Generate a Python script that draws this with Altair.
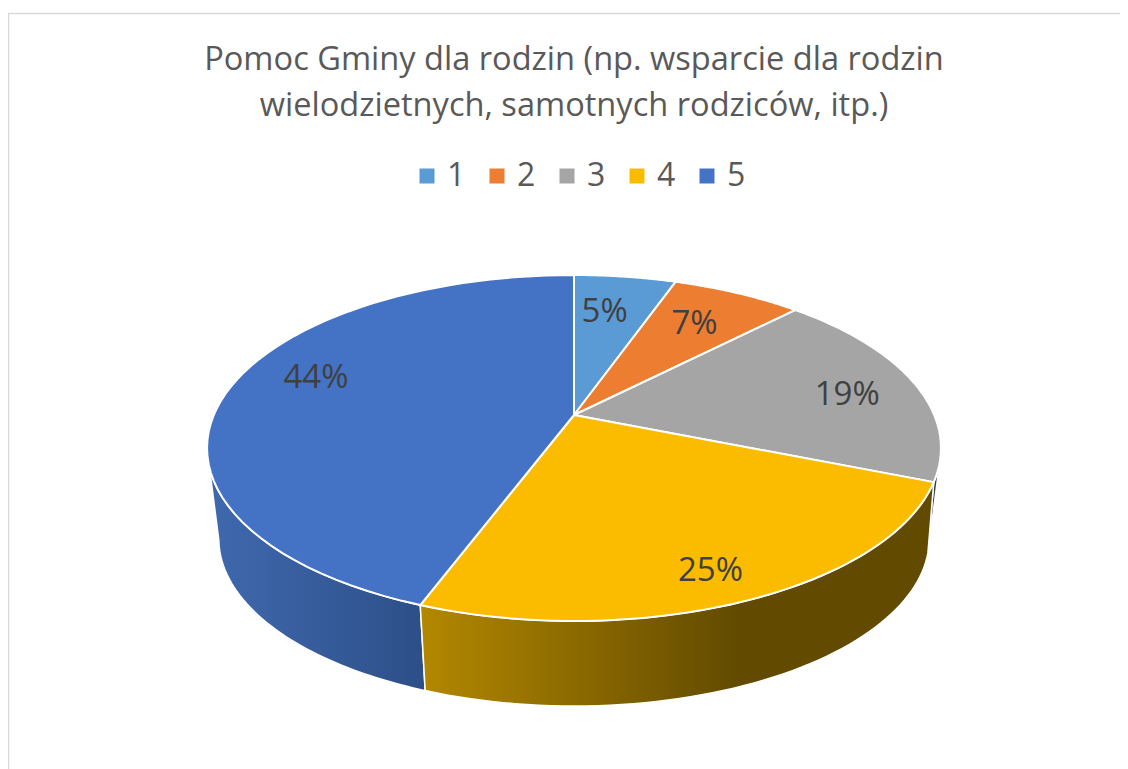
import math
import altair as alt
import pandas as pd

# --- chart content -------------------------------------------------------
title_lines = ["Pomoc Gminy dla rodzin  (np. wsparcie dla rodzin",
               "wielodzietnych, samotnych rodziców, itp.)"]
categories = ["1", "2", "3", "4", "5"]
shares = [5.4, 6.9, 18.8, 24.6, 44.3]
labels = ["5%", "7%", "19%", "25%", "44%"]
colors = ["#5B9BD5", "#ED7D31", "#A5A5A5", "#FBBC00", "#4472C4"]
label_radius = [0.72, 0.73, 0.79, 0.85, 0.79]
label_turn = [-2, -1, 2, 1.5, 8]

# --- perspective of the tilted disc --------------------------------------
CX, TOP_Y, BOT_Y = 574, 415, 506.6
P, RX, RY = 0.1908, 360.2, 166.7
SHRINK = 0.968


def top_pt(deg, rho=1.0):
    t = math.radians(deg)
    u, v = rho * math.sin(t), rho * math.cos(t)
    w = 1 + P * v
    return CX + RX * u / w, TOP_Y - RY * v / w


def low_pt(deg):
    t = math.radians(deg)
    u, v = math.sin(t), math.cos(t)
    w = 1 + P * v
    return CX + SHRINK * RX * u / w, BOT_Y - SHRINK * RY * v / w


def sweep(a, b, n=60):
    return [a + (b - a) * i / n for i in range(n + 1)]


cum = [0.0]
for s in shares:
    cum.append(cum[-1] + s)
angles = [c * 3.6 for c in cum]

rows = []
for k, cat in enumerate(categories):
    pts = [(CX, TOP_Y)] + [top_pt(d) for d in sweep(angles[k], angles[k + 1])]
    rows += [{"slice": cat, "i": i, "x": x, "y": y} for i, (x, y) in enumerate(pts)]
slices = pd.DataFrame(rows)


def wall(t_from, t_to, b_from, b_to):
    pts = [top_pt(d) for d in sweep(t_from, t_to)] + [low_pt(d) for d in sweep(b_from, b_to)]
    return pd.DataFrame([{"i": i, "x": x, "y": y} for i, (x, y) in enumerate(pts)])


xs = alt.Scale(domain=[8, 1120], range=[0, 1112])
ys = alt.Scale(domain=[8, 769], range=[0, 761])
X = alt.X("x:Q", scale=xs, axis=None)
Y = alt.Y("y:Q", scale=ys, axis=None)


def gradient(stops):
    return {"gradient": "linear", "x1": 0, "x2": 1, "y1": 0, "y2": 0,
            "stops": [{"offset": o, "color": c} for o, c in stops]}


def wall_layer(data, fill):
    return alt.Chart(data).mark_line(
        interpolate="linear-closed", fill=fill, stroke="white", strokeWidth=1.5
    ).encode(x=X, y=Y, order="i:Q")


wall_blue = wall_layer(wall(angles[4], 252.5, 258.5, angles[4]),
                       gradient([(0, "#3F69AE"), (1, "#2D4F88")]))
wall_yellow = wall_layer(wall(angles[3], angles[4], angles[4], 105.7),
                         gradient([(0, "#B38800"), (0.62, "#624A00"), (1, "#624A00")]))
wall_grey = wall_layer(wall(angles[3] - 6, angles[3], 105.7, 103.5), "#3A3F4A")

top = alt.Chart(slices).mark_line(
    interpolate="linear-closed", stroke="white", strokeWidth=2
).encode(
    x=X, y=Y, order="i:Q",
    fill=alt.Fill("slice:N", scale=alt.Scale(domain=categories, range=colors),
                  legend=alt.Legend(
                      title=None, orient="none", legendX=403, legendY=152,
                      direction="horizontal", columns=5, symbolType="square",
                      symbolSize=225, symbolStrokeWidth=0, labelFontSize=32,
                      labelFont="Open Sans", labelColor="#595959", labelOffset=4,
                      columnPadding=15, labelLimit=100)),
)

lab_rows = []
for k, txt in enumerate(labels):
    mid = (angles[k] + angles[k + 1]) / 2 + label_turn[k]
    x, y = top_pt(mid, label_radius[k])
    lab_rows.append({"x": x, "y": y, "txt": txt})
text = alt.Chart(pd.DataFrame(lab_rows)).mark_text(
    font="Open Sans", fontSize=33, color="#404040", align="center", baseline="middle", dy=2
).encode(x=X, y=Y, text="txt:N")

frame_left = alt.Chart().mark_rule(color="#D9D9D9", strokeWidth=1.5).encode(
    x=alt.value(0.5), y=alt.value(5.5), y2=alt.value(761))
frame_top = alt.Chart().mark_rule(color="#D9D9D9", strokeWidth=1.5).encode(
    y=alt.value(5.5), x=alt.value(0), x2=alt.value(1112))

chart = alt.layer(wall_grey, wall_blue, wall_yellow, top, text, frame_left, frame_top).properties(
    width=1112, height=761, padding=0,
    autosize=alt.AutoSizeParams(type="none"),
    title=alt.TitleParams(text=title_lines, font="Open Sans", fontSize=32.6, fontWeight="normal",
                          color="#595959", anchor="middle", dx=10, offset=-115,
                          baseline="top", lineHeight=46),
).configure_view(stroke=None)

chart.save("out.html", embed_options={"renderer": "svg", "actions": False})
